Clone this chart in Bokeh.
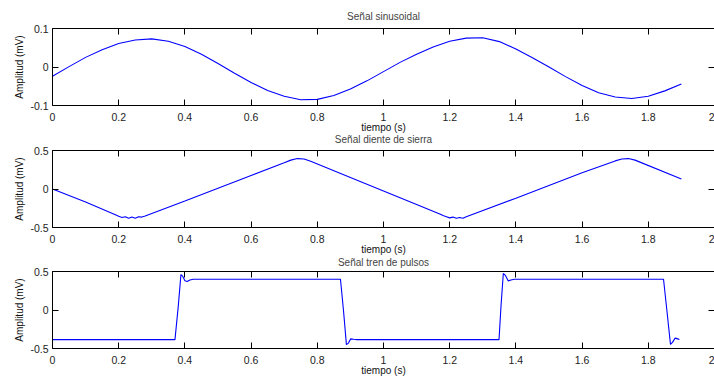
from bokeh.plotting import figure
from bokeh.layouts import column
from bokeh.models import LinearAxis, FixedTicker, Range1d, CustomLabelingPolicy
from bokeh.embed import file_html
from bokeh.resources import INLINE

# ---------------- data ----------------
t_sin = [0.00, 0.05, 0.10, 0.15, 0.20, 0.25, 0.30, 0.35, 0.40, 0.45,
         0.50, 0.55, 0.60, 0.65, 0.70, 0.75, 0.80, 0.85, 0.90, 0.95,
         1.00, 1.05, 1.10, 1.15, 1.20, 1.25, 1.30, 1.35, 1.40, 1.45,
         1.50, 1.55, 1.60, 1.65, 1.70, 1.75, 1.80, 1.85, 1.90]
v_sin = [-0.024, 0.001, 0.025, 0.045, 0.061, 0.070, 0.073, 0.067, 0.053, 0.033,
         0.009, -0.016, -0.040, -0.061, -0.076, -0.085, -0.084, -0.074, -0.057, -0.036,
         -0.012, 0.012, 0.033, 0.052, 0.067, 0.075, 0.076, 0.066, 0.047, 0.024,
         0.000, -0.025, -0.048, -0.067, -0.078, -0.082, -0.076, -0.062, -0.044]

t_saw = [0.00, 0.10, 0.19, 0.20, 0.21, 0.22, 0.23, 0.24, 0.25, 0.26, 0.27, 0.28,
         0.40, 0.50, 0.60, 0.70, 0.72, 0.74, 0.76, 0.78, 0.90, 1.00, 1.10,
         1.17, 1.18, 1.19, 1.20, 1.21, 1.22, 1.23, 1.24, 1.25,
         1.40, 1.50, 1.60, 1.70, 1.72, 1.74, 1.76, 1.90]
v_saw = [0.000, -0.170, -0.335, -0.355, -0.370, -0.360, -0.380, -0.365, -0.380, -0.360, -0.365, -0.350,
         -0.155, 0.010, 0.175, 0.340, 0.375, 0.395, 0.390, 0.360, 0.150, -0.025, -0.200,
         -0.325, -0.345, -0.360, -0.375, -0.365, -0.380, -0.370, -0.380, -0.360,
         -0.120, 0.045, 0.210, 0.365, 0.390, 0.395, 0.375, 0.130]

t_pul = [0.000, 0.370, 0.380, 0.388, 0.393, 0.400, 0.407, 0.415, 0.425,
         0.870, 0.879, 0.888, 0.894, 0.901, 0.910, 0.920,
         1.349, 1.355, 1.362, 1.368, 1.377, 1.385, 1.395,
         1.846, 1.856, 1.867, 1.873, 1.881, 1.889, 1.894]
v_pul = [-0.385, -0.385, 0.050, 0.460, 0.440, 0.380, 0.370, 0.390, 0.400,
         0.400, 0.000, -0.450, -0.430, -0.375, -0.380, -0.385,
         -0.385, 0.050, 0.475, 0.450, 0.378, 0.390, 0.400,
         0.400, 0.000, -0.447, -0.420, -0.365, -0.375, -0.383]

titles = ["Señal sinusoidal", "Señal diente de sierra", "Señal tren de pulsos"]
x_label = "tiempo (s)"
y_label = "Amplitud (mV)"
x_ticks = [0, 0.2, 0.4, 0.6, 0.8, 1, 1.2, 1.4, 1.6, 1.8, 2]
x_tick_labels = ["0", "0.2", "0.4", "0.6", "0.8", "1", "1.2", "1.4", "1.6", "1.8", "2"]
y_ticks_sin = [-0.1, 0, 0.1]
y_tick_labels_sin = ["-0.1", "0", "0.1"]
y_ticks_sq = [-0.5, 0, 0.5]
y_tick_labels_sq = ["-0.5", "0", "0.5"]

FONT = "Liberation Sans"
HIDE_LABELS = "for (const i of Array.from(indices)) { indices.unset(i) } return indices"


def style_axis(ax, ticks, labels, tick_len):
    ax.ticker = FixedTicker(ticks=ticks)
    ax.major_label_overrides = {tk: lb for tk, lb in zip(ticks, labels)}
    ax.major_tick_in = tick_len
    ax.major_tick_out = 0
    ax.minor_tick_line_color = None
    ax.axis_line_color = "black"
    ax.major_tick_line_color = "black"
    ax.major_label_text_font = FONT
    ax.major_label_text_font_size = "10.5px"
    ax.major_label_text_color = "#222222"
    ax.axis_label_text_font = FONT
    ax.axis_label_text_font_size = "10px"
    ax.axis_label_text_font_style = "normal"
    ax.axis_label_text_color = "#111111"


def bare_axis(ticks, labels):
    ax = LinearAxis()
    style_axis(ax, ticks, labels, 6)
    ax.major_label_standoff = 0
    ax.major_label_text_font_size = "0px"
    ax.major_label_policy = CustomLabelingPolicy(code=HIDE_LABELS)
    return ax


def make_fig(title, t, v, yr, yticks, ylabels, min_top, title_standoff, top_margin):
    p = figure(frame_width=662, frame_height=77,
               x_range=Range1d(0, 2), y_range=Range1d(*yr),
               output_backend="svg", toolbar_location=None,
               min_border_left=44, min_border_right=0,
               min_border_top=min_top, min_border_bottom=0,
               title=title, margin=(top_margin, 0, 0, 8))
    p.title.align = "center"
    p.title.text_font = FONT
    p.title.text_font_size = "10px"
    p.title.text_font_style = "normal"
    p.title.standoff = title_standoff
    p.outline_line_color = None
    p.grid.visible = False
    p.background_fill_color = "white"
    p.border_fill_color = None

    xa = p.xaxis[0]
    style_axis(xa, x_ticks, x_tick_labels, 6)
    xa.axis_label = x_label
    xa.major_label_standoff = 7
    xa.axis_label_standoff = -2

    ya = p.yaxis[0]
    style_axis(ya, yticks, ylabels, 6)
    ya.axis_label = y_label
    ya.major_label_standoff = 4
    ya.axis_label_standoff = 2

    p.add_layout(bare_axis(x_ticks, x_tick_labels), "above")
    right_ax = bare_axis(yticks, ylabels)
    right_ax.axis_line_color = None
    p.add_layout(right_ax, "right")

    p.line(t, v, line_color="#0000ff", line_width=1.1)
    return p


p1 = make_fig(titles[0], t_sin, v_sin, (-0.1, 0.1), y_ticks_sin, y_tick_labels_sin, 28, 14, 0)
p2 = make_fig(titles[1], t_saw, v_saw, (-0.5, 0.5), y_ticks_sq, y_tick_labels_sq, 0, 12, -10)
p3 = make_fig(titles[2], t_pul, v_pul, (-0.5, 0.5), y_ticks_sq, y_tick_labels_sq, 0, 8, -7)

layout = column(p1, p2, p3, spacing=0)

open("out.html", "w").write(file_html(layout, INLINE))
